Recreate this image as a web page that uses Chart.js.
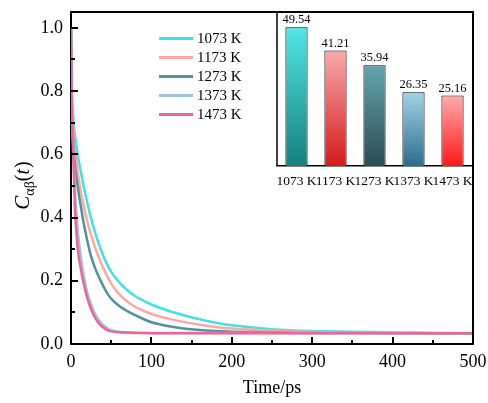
<!DOCTYPE html>
<html><head><meta charset="utf-8">
<script src="https://cdn.jsdelivr.net/npm/chart.js@4.4.1/dist/chart.umd.min.js"></script>
<style>
html,body{margin:0;padding:0;background:#fff;}
#wrap{position:relative;width:488px;height:403px;overflow:hidden;}
#main{position:absolute;left:0;top:0;}
#inset{position:absolute;left:262px;top:0;}
</style></head><body>
<div id="wrap">
<canvas id="main" width="488" height="403"></canvas>
<canvas id="inset" width="226" height="200"></canvas>
</div>
<script>
// ---------- data ----------
const timePs = [0,1,2,3,4,5,6,8,10,12,15,20,25,30,35,40,45,50,60,70,80,90,100,120,140,160,180,200,250,300,350,400,450,500];
const c1073 = [1.0,0.80,0.75,0.71,0.68,0.66,0.64,0.605,0.575,0.548,0.508,0.45,0.397,0.352,0.313,0.279,0.251,0.228,0.195,0.170,0.151,0.137,0.125,0.106,0.091,0.078,0.067,0.059,0.047,0.041,0.039,0.037,0.035,0.034];
const c1173 = [1.0,0.76,0.71,0.67,0.64,0.615,0.59,0.55,0.515,0.485,0.445,0.39,0.345,0.305,0.271,0.241,0.214,0.191,0.157,0.134,0.117,0.105,0.095,0.081,0.070,0.061,0.054,0.049,0.042,0.038,0.037,0.036,0.035,0.034];
const c1273 = [1.0,0.74,0.68,0.63,0.59,0.56,0.54,0.505,0.47,0.44,0.393,0.33,0.277,0.24,0.21,0.184,0.161,0.143,0.12,0.104,0.091,0.079,0.069,0.057,0.049,0.044,0.041,0.039,0.036,0.035,0.035,0.034,0.034,0.034];
const c1373 = [1.0,0.77,0.68,0.61,0.54,0.48,0.44,0.37,0.32,0.28,0.23,0.165,0.125,0.095,0.074,0.06,0.05,0.044,0.039,0.037,0.036,0.035,0.035,0.035,0.035,0.035,0.035,0.035,0.035,0.035,0.035,0.034,0.034,0.034];
const c1473 = [1.0,0.74,0.65,0.58,0.50,0.42,0.38,0.31,0.27,0.24,0.20,0.148,0.11,0.083,0.064,0.052,0.044,0.040,0.037,0.036,0.035,0.035,0.034,0.034,0.034,0.034,0.034,0.034,0.034,0.034,0.034,0.034,0.034,0.034];
const seriesLabels = ['1073 K','1173 K','1273 K','1373 K','1473 K'];
const seriesColors = ['#45e0e0','#ffa8a3','#4f929f','#95c6dc','#f0649a'];
const xMajorTicks = [0,100,200,300,400,500];
const xMinorTicks = [50,150,250,350,450];
const yMajorTicks = [0,0.2,0.4,0.6,0.8,1.0];
const yMinorTicks = [0.1,0.3,0.5,0.7,0.9];

const barCategories = ['1073 K','1173 K','1273 K','1373 K','1473 K'];
const barValues = [49.54, 41.21, 35.94, 26.35, 25.16];
const barTopColors = ['#50e6e4','#f9abab','#64a5b0','#a2d3e6','#ffacac'];
const barBottomColors = ['#16807c','#d41a1a','#2b4c53','#2d6c8a','#ff1818'];

const SERIF = "'Liberation Serif','Times New Roman',serif";
const allSeries = [c1073,c1173,c1273,c1373,c1473];

function noOverhang(s) { s.paddingLeft = 0; s.paddingRight = 0; s.paddingTop = 0; s.paddingBottom = 0; }

// ---------- main chart ----------
const mainPlugin = {
  id: 'mainDeco',
  afterDraw(chart) {
    const {ctx, chartArea: a, scales: {x, y}} = chart;
    ctx.save();
    ctx.strokeStyle = '#000';
    ctx.lineWidth = 2;
    ctx.beginPath();
    ctx.moveTo(a.left - 1, a.top); ctx.lineTo(a.right, a.top); ctx.lineTo(a.right, a.bottom);
    ctx.stroke();
    ctx.beginPath();
    yMajorTicks.forEach(v => { const p = Math.round(y.getPixelForValue(v)); ctx.moveTo(a.left, p); ctx.lineTo(a.left + 7, p); });
    yMinorTicks.forEach(v => { const p = Math.round(y.getPixelForValue(v)); ctx.moveTo(a.left, p); ctx.lineTo(a.left + 4, p); });
    xMajorTicks.forEach(v => { const p = Math.round(x.getPixelForValue(v)); ctx.moveTo(p, a.bottom); ctx.lineTo(p, a.bottom - 7); });
    xMinorTicks.forEach(v => { const p = Math.round(x.getPixelForValue(v)); ctx.moveTo(p, a.bottom); ctx.lineTo(p, a.bottom - 4); });
    ctx.stroke();

    // legend
    ctx.font = '15px ' + SERIF;
    ctx.textBaseline = 'middle';
    ctx.textAlign = 'left';
    chart.data.datasets.forEach((ds, i) => {
      const yy = 38.5 + i * 19;
      ctx.strokeStyle = ds.borderColor;
      ctx.lineWidth = 3;
      ctx.beginPath(); ctx.moveTo(159, yy); ctx.lineTo(193, yy); ctx.stroke();
      ctx.fillStyle = '#000';
      ctx.fillText(ds.label, 197, yy + 1);
    });

    // y title C_αβ(t)
    ctx.translate(29, 186);
    ctx.rotate(-Math.PI / 2);
    ctx.textBaseline = 'alphabetic';
    const parts = [
      {t: 'C', f: 'italic 21px ' + SERIF, dy: 0},
      {t: 'αβ', f: '14px ' + SERIF, dy: 5},
      {t: '(', f: '20px ' + SERIF, dy: 0},
      {t: 't', f: 'italic 20px ' + SERIF, dy: 0},
      {t: ')', f: '20px ' + SERIF, dy: 0}
    ];
    let total = 0;
    parts.forEach(p => { ctx.font = p.f; p.w = ctx.measureText(p.t).width; total += p.w; });
    let cx = -total / 2;
    ctx.fillStyle = '#000';
    parts.forEach(p => { ctx.font = p.f; ctx.fillText(p.t, cx, p.dy); cx += p.w + (p.t === 't' ? 1 : 0); });
    ctx.restore();
  }
};

new Chart(document.getElementById('main'), {
  type: 'line',
  data: {
    datasets: allSeries.map((arr, i) => ({
      label: seriesLabels[i],
      data: timePs.map((t, j) => ({x: t, y: arr[j]})),
      borderColor: seriesColors[i],
      backgroundColor: seriesColors[i],
      borderWidth: 2.5,
      pointRadius: 0,
      fill: false,
      cubicInterpolationMode: 'monotone',
      order: 4 - i
    }))
  },
  options: {
    responsive: false,
    animation: false,
    devicePixelRatio: 1,
    layout: {padding: {left: 0, right: 15, top: 12, bottom: 0}},
    plugins: {legend: {display: false}, tooltip: {enabled: false}},
    scales: {
      x: {
        type: 'linear', min: 0, max: 500,
        ticks: {stepSize: 100, color: '#000', font: {family: SERIF, size: 18}, padding: 7, maxRotation: 0},
        grid: {display: false, drawTicks: false},
        border: {display: true, color: '#000', width: 2},
        title: {display: true, text: 'Time/ps', color: '#000', font: {family: SERIF, size: 18}, padding: {top: 0, bottom: 4}},
        afterFit(s) { s.height = 59; noOverhang(s); }
      },
      y: {
        type: 'linear', min: 0, max: 1.05,
        ticks: {stepSize: 0.2, includeBounds: false, color: '#000', font: {family: SERIF, size: 18}, padding: 8, callback: v => Number(v).toFixed(1)},
        grid: {display: false, drawTicks: false},
        border: {display: true, color: '#000', width: 2},
        afterFit(s) { s.width = 71; noOverhang(s); }
      }
    }
  },
  plugins: [mainPlugin]
});

// ---------- inset bar chart ----------
const insetPlugin = {
  id: 'insetDeco',
  afterDraw(chart) {
    const {ctx, chartArea: a} = chart;
    ctx.save();
    ctx.strokeStyle = '#000';
    ctx.lineWidth = 1.5;
    ctx.beginPath(); ctx.moveTo(a.left, a.top); ctx.lineTo(a.left, a.bottom); ctx.stroke();
    const meta = chart.getDatasetMeta(0);
    ctx.fillStyle = '#000';
    ctx.font = '12.5px ' + SERIF;
    ctx.textAlign = 'center';
    ctx.textBaseline = 'alphabetic';
    meta.data.forEach((bar, i) => {
      ctx.fillText(barValues[i].toFixed(2), bar.x, bar.y - 4);
    });
    ctx.restore();
  }
};

new Chart(document.getElementById('inset'), {
  type: 'bar',
  data: {
    labels: barCategories,
    datasets: [{
      data: barValues,
      backgroundColor(c) {
        const i = c.dataIndex === undefined ? 0 : c.dataIndex;
        const ys = c.chart.scales && c.chart.scales.y;
        if (!ys) return barTopColors[i];
        const top = ys.getPixelForValue(barValues[i]);
        const bottom = ys.getPixelForValue(0);
        if (!isFinite(top) || !isFinite(bottom) || top === bottom) return barTopColors[i];
        const g = c.chart.ctx.createLinearGradient(0, top, 0, bottom);
        g.addColorStop(0, barTopColors[i]);
        g.addColorStop(1, barBottomColors[i]);
        return g;
      },
      borderColor: '#000',
      borderWidth: 1,
      barPercentage: 0.57,
      categoryPercentage: 1
    }]
  },
  options: {
    responsive: false,
    animation: false,
    devicePixelRatio: 1,
    layout: {padding: {left: 15, right: 16, top: 12, bottom: 0}},
    plugins: {legend: {display: false}, tooltip: {enabled: false}},
    scales: {
      x: {
        ticks: {color: '#000', font: {family: SERIF, size: 13.5}, autoSkip: false, maxRotation: 0, minRotation: 0, padding: 7},
        grid: {display: false, drawTicks: false},
        border: {display: true, color: '#000', width: 1.5},
        afterFit(s) { s.height = 34; noOverhang(s); }
      },
      y: {display: false, min: 0, max: 55}
    }
  },
  plugins: [insetPlugin]
});
</script>
</body></html>
